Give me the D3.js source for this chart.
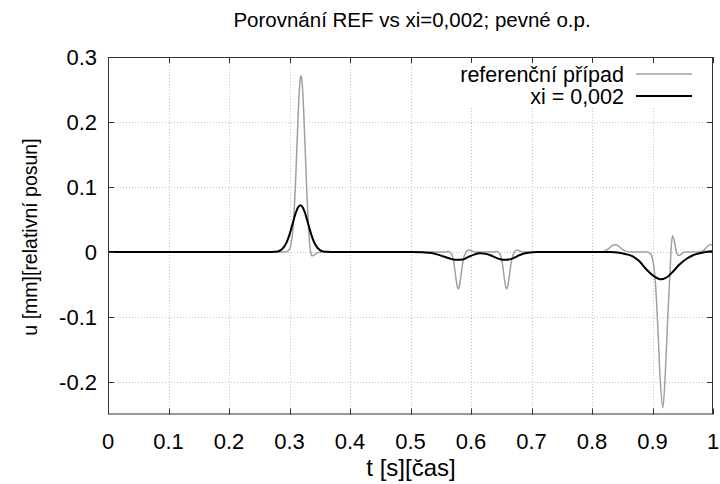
<!DOCTYPE html>
<html>
<head>
<meta charset="utf-8">
<script src="https://cdn.jsdelivr.net/npm/d3@7"></script>
<style>
  html, body { margin: 0; padding: 0; background: #fff; }
  svg { display: block; font-family: "Liberation Sans", Arial, sans-serif; }
</style>
</head>
<body>
<svg id="chart" width="720" height="484"></svg>
<script>
// Reference case (grey curve): time [s] and displacement [mm]
const tRef = [0, 0.28, 0.295, 0.300, 0.305, 0.310, 0.314, 0.317, 0.319, 0.321, 0.324, 0.328, 0.331, 0.333, 0.335, 0.337, 0.340, 0.345, 0.350, 0.356,
  0.54, 0.556, 0.562, 0.566, 0.569, 0.572, 0.575, 0.577, 0.579, 0.581, 0.583, 0.586, 0.589, 0.592, 0.596, 0.600, 0.606,
  0.636, 0.642, 0.646, 0.649, 0.652, 0.655, 0.657, 0.659, 0.661, 0.663, 0.666, 0.669, 0.672, 0.676, 0.680, 0.686,
  0.81, 0.818, 0.826, 0.832, 0.838, 0.844, 0.850, 0.857, 0.865, 0.892, 0.897, 0.901, 0.905, 0.909, 0.913, 0.917, 0.921, 0.925,
  0.929, 0.931, 0.933, 0.936, 0.939, 0.942, 0.945, 0.949, 0.955, 0.978, 0.984, 0.990, 0.995, 1.0];
const uRef = [0, 0, 0.0004, 0.0043, 0.0285, 0.107, 0.204, 0.259, 0.271, 0.259, 0.204, 0.107, 0.045, 0.015, 0.000, -0.006, -0.005, -0.002, -0.0005, 0,
  0, 0, 0.0008, -0.001, -0.0059, -0.0188, -0.0397, -0.0516, -0.057, -0.0516, -0.0397, -0.0188, -0.0059, 0.000, 0.003, 0.002, 0,
  0, 0.0008, -0.001, -0.0059, -0.0188, -0.0397, -0.0516, -0.057, -0.0516, -0.0397, -0.0188, -0.0059, 0.000, 0.003, 0.002, 0,
  0, 0.0005, 0.004, 0.009, 0.011, 0.009, 0.004, 0.001, 0, 0, -0.003, -0.015, -0.050, -0.12, -0.20, -0.240, -0.19, -0.105,
  -0.03, 0.008, 0.025, 0.017, 0.002, -0.005, -0.005, -0.002, 0, 0, 0.002, 0.008, 0.011, 0.011];

// Damped case xi = 0,002 (black curve)
const tXi = [0, 0.265, 0.275, 0.28, 0.285, 0.29, 0.295, 0.30, 0.305, 0.31, 0.314, 0.318, 0.322, 0.326, 0.331, 0.336, 0.341, 0.346, 0.351, 0.356, 0.362, 0.37,
  0.50, 0.52, 0.535, 0.545, 0.555, 0.565, 0.573, 0.579, 0.586, 0.595, 0.605, 0.615, 0.622, 0.632, 0.642, 0.650, 0.658, 0.666, 0.675, 0.685, 0.695, 0.71,
  0.83, 0.845, 0.855, 0.868, 0.878, 0.890, 0.902, 0.914, 0.925, 0.934, 0.945, 0.957, 0.967, 0.978, 0.988, 1.0];
const uXi = [0, 0, 0.0004, 0.0009, 0.0026, 0.0066, 0.0144, 0.0268, 0.043, 0.0592, 0.0686, 0.072, 0.0686, 0.0592, 0.043, 0.0268, 0.0144, 0.0066, 0.0026, 0.0009, 0.0002, 0,
  0, -0.0005, -0.0015, -0.004, -0.007, -0.010, -0.0118, -0.012, -0.0115, -0.008, -0.004, -0.002, -0.0025, -0.005, -0.009, -0.0115, -0.012, -0.011, -0.007, -0.003, -0.001, 0,
  0, -0.001, -0.003, -0.007, -0.014, -0.027, -0.037, -0.042, -0.038, -0.030, -0.019, -0.010, -0.005, -0.002, 0, 0.001];

const xTicks = [0, 0.1, 0.2, 0.3, 0.4, 0.5, 0.6, 0.7, 0.8, 0.9, 1];
const yTicks = [-0.2, -0.1, 0, 0.1, 0.2, 0.3];
const seriesNames = ["referenční případ", "xi = 0,002"];
const titleText = "Porovnání REF vs xi=0,002; pevné o.p.";
const xLabel = "t [s][čas]";
const yLabel = "u [mm][relativní posun]";

const svg = d3.select("#chart");
const plotL = 108, plotR = 713, plotT = 57, plotB = 414.5;

const x = d3.scaleLinear().domain([0, 1]).range([plotL, plotR]);
const y = d3.scaleLinear().domain([-0.25, 0.3]).range([plotB, plotT]);

const fmt = v => (v === 0 ? "0" : String(+v.toFixed(1)));

// dotted grid
const grid = svg.append("g").attr("stroke", "#c4c4c4").attr("stroke-width", 1).attr("stroke-dasharray", "1,2");
grid.selectAll("line.gx").data(xTicks.filter(d => d > 0 && d < 1)).join("line")
  .attr("x1", d => Math.round(x(d)) + 0.5).attr("x2", d => Math.round(x(d)) + 0.5)
  .attr("y1", plotT).attr("y2", plotB);
grid.selectAll("line.gy").data(yTicks.filter(d => d < 0.3)).join("line")
  .attr("y1", d => Math.round(y(d)) + 0.5).attr("y2", d => Math.round(y(d)) + 0.5)
  .attr("x1", plotL).attr("x2", plotR);

// legend background hides the grid behind the key
svg.append("rect").attr("x", 452).attr("y", 61).attr("width", 255).attr("height", 46).attr("fill", "#fff");

// curves
const line = d3.line().x(d => x(d[0])).y(d => y(d[1])).curve(d3.curveMonotoneX);
svg.append("path").datum(d3.zip(tRef, uRef)).attr("d", line)
  .attr("fill", "none").attr("stroke", "#a0a0a0").attr("stroke-width", 1.5);
svg.append("path").datum(d3.zip(tXi, uXi)).attr("d", line)
  .attr("fill", "none").attr("stroke", "#000").attr("stroke-width", 2);

// frame and inward mirrored ticks
const axes = svg.append("g").attr("stroke", "#333").attr("stroke-width", 1);
axes.append("rect").attr("x", plotL + 0.5).attr("y", plotT + 0.5)
  .attr("width", plotR - plotL - 1).attr("height", plotB - plotT - 1).attr("fill", "none");
const tl = 6;
xTicks.forEach(d => {
  const px = Math.round(x(d)) + 0.5;
  axes.append("line").attr("x1", px).attr("x2", px).attr("y1", plotB).attr("y2", plotB - tl);
  axes.append("line").attr("x1", px).attr("x2", px).attr("y1", plotT).attr("y2", plotT + tl);
});
yTicks.forEach(d => {
  const py = Math.round(y(d)) + 0.5;
  axes.append("line").attr("x1", plotL).attr("x2", plotL + tl).attr("y1", py).attr("y2", py);
  axes.append("line").attr("x1", plotR).attr("x2", plotR - tl).attr("y1", py).attr("y2", py);
});

// tick labels
svg.append("g").selectAll("text").data(xTicks).join("text")
  .attr("x", d => x(d)).attr("y", 449).attr("text-anchor", "middle")
  .attr("font-size", 22).text(fmt);
svg.append("g").selectAll("text").data(yTicks).join("text")
  .attr("x", 97).attr("y", d => y(d)).attr("dy", "0.35em").attr("text-anchor", "end")
  .attr("font-size", 22).text(fmt);

// titles
svg.append("text").attr("x", 412).attr("y", 27).attr("text-anchor", "middle")
  .attr("font-size", 20.5).text(titleText);
svg.append("text").attr("x", 411).attr("y", 476).attr("text-anchor", "middle")
  .attr("font-size", 24).text(xLabel);
svg.append("text").attr("transform", "translate(37,237) rotate(-90)").attr("text-anchor", "middle")
  .attr("font-size", 19.5).text(yLabel);

// legend
const legendColors = ["#a0a0a0", "#000"];
const legendWidths = [1.5, 2];
seriesNames.forEach((name, i) => {
  const ly = 74 + i * 22;
  svg.append("text").attr("x", 624).attr("y", ly).attr("dy", "0.35em").attr("text-anchor", "end")
    .attr("font-size", 21.5).text(name);
  svg.append("line").attr("x1", 636).attr("x2", 692).attr("y1", ly).attr("y2", ly)
    .attr("stroke", legendColors[i]).attr("stroke-width", legendWidths[i]);
});
</script>
</body>
</html>
